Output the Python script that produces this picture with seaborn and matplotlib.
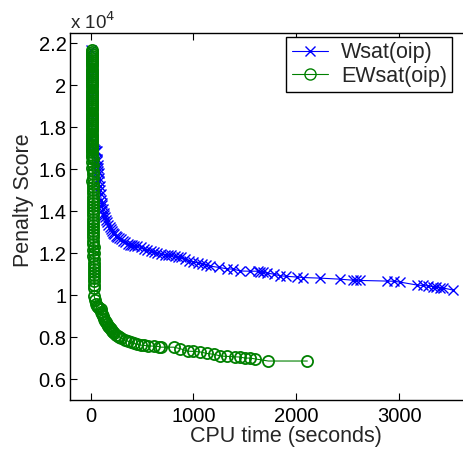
import pandas as pd
import matplotlib
matplotlib.use('Agg')
import matplotlib.pyplot as plt
import seaborn as sns
from matplotlib.ticker import FuncFormatter
from matplotlib.lines import Line2D

# Wsat(oip): CPU time (s) vs penalty score
wsat_time = [2, 3, 4, 5, 6, 8, 10, 14, 20, 30, 40, 50, 58, 62, 65, 68, 72, 75, 78, 82, 85, 88,
             92, 97, 102, 108, 112, 118, 126, 134, 142, 150, 160, 172, 185, 194, 205, 218,
             230, 245, 260, 275, 291, 310, 330, 359, 380, 400, 420, 450, 485, 520, 550, 583,
             620, 650, 680, 720, 750, 777, 820, 850, 880, 920, 960, 1000, 1040, 1080, 1120,
             1165, 1250, 1330, 1388, 1456, 1550, 1631, 1650, 1680, 1718, 1780, 1845, 1900,
             2010, 2060, 2233, 2427, 2553, 2580, 2620, 2883, 2950, 3010, 3175, 3230, 3280,
             3330, 3360, 3400, 3430, 3524]
wsat_score = [21700, 20500, 19500, 18600, 18200, 17500, 17300, 17100, 17000, 16950, 16900,
              16880, 16860, 16500, 16400, 16200, 16050, 15900, 15800, 15600, 15450, 15200,
              15000, 14800, 14550, 14400, 14300, 14100, 13900, 13800, 13700, 13600, 13500,
              13350, 13250, 13150, 13050, 12980, 12900, 12820, 12760, 12720, 12670, 12600,
              12520, 12430, 12400, 12370, 12350, 12320, 12290, 12220, 12160, 12100, 12050,
              12000, 11950, 11930, 11910, 11900, 11850, 11820, 11800, 11720, 11650, 11570,
              11540, 11500, 11440, 11380, 11320, 11250, 11240, 11150, 11140, 11140, 11120,
              11090, 11050, 11000, 10920, 10900, 10860, 10840, 10810, 10760, 10710, 10720,
              10700, 10670, 10660, 10620, 10480, 10460, 10440, 10400, 10380, 10360, 10340,
              10240]

# EWsat(oip): CPU time (s) vs penalty score
ewsat_time = [10, 12, 11, 13, 12, 14, 12, 13, 11, 14, 12, 13, 14, 12, 15, 13, 14, 12, 15, 13,
              14, 16, 13, 15, 14, 16, 14, 15, 13, 16, 15, 14, 16, 15, 17, 14, 16, 15, 17, 16,
              15, 17, 16, 18, 15, 17, 16, 18, 17, 16, 18, 17, 19,
              18, 20, 17, 21, 19, 22, 18, 21, 20, 23, 19, 22, 21, 24, 20, 23, 22, 25, 21, 24,
              23, 26, 22, 25, 24, 27, 25, 28, 26, 29, 27, 30, 28, 31, 30, 33, 31, 35, 33, 37,
              36,
              35, 45, 55, 65, 75, 85, 97, 105, 112, 120, 126, 135, 145, 155, 165, 175, 185,
              194, 205, 215, 230, 245, 262, 280, 300, 330, 359, 390, 420, 450, 485, 520, 560,
              612, 660, 680, 806, 870, 942, 1000, 1068, 1130, 1200, 1262, 1330, 1400, 1456,
              1500, 1553, 1600, 1728, 2107]
ewsat_score = [21700, 21600, 21500, 21400, 21300, 21200, 21100, 21000, 20900, 20800, 20700,
               20600, 20500, 20400, 20300, 20200, 20100, 20000, 19900, 19800, 19700, 19600,
               19500, 19400, 19300, 19200, 19100, 19000, 18900, 18800, 18700, 18600, 18500,
               18400, 18300, 18200, 18100, 18000, 17900, 17800, 17700, 17600, 17500, 17400,
               17300, 17200, 17100, 17000, 16900, 16800, 16700, 16600, 16500,
               16350, 16200, 16050, 15900, 15750, 15600, 15450, 15300, 15150, 15000, 14850,
               14700, 14550, 14400, 14250, 14100, 13950, 13800, 13650, 13500, 13350, 13200,
               13050, 12900, 12750, 12600, 12450, 12300, 12150, 12000, 11850, 11700, 11550,
               11400, 11250, 11100, 10950, 10800, 10650, 10500, 10350,
               9950, 9750, 9600, 9500, 9420, 9380, 9330, 9200, 9100, 9000, 8860, 8780, 8700,
               8620, 8550, 8480, 8420, 8380, 8300, 8250, 8180, 8120, 8050, 8000, 7950, 7880,
               7810, 7760, 7700, 7660, 7620, 7600, 7580, 7570, 7550, 7520, 7520, 7450, 7330,
               7320, 7290, 7220, 7180, 7100, 7080, 7060, 7050, 7000, 7000, 6960, 6860, 6860]

wsat = pd.DataFrame({'time': wsat_time, 'score': wsat_score})
ewsat = pd.DataFrame({'time': ewsat_time, 'score': ewsat_score})

sns.set_style('ticks')
plt.rcParams['font.family'] = ['Liberation Sans', 'DejaVu Sans']
fs = 15.5

fig = plt.figure(figsize=(4.64, 4.5), dpi=100)
# the original axes runs past the right edge of the picture
ax = fig.add_axes([0.151, 0.111, 0.931, 0.816])

sns.lineplot(data=wsat, x='time', y='score', estimator=None, sort=False, ax=ax,
             color='blue', linewidth=0.8, marker='x', markersize=6.5,
             markeredgewidth=1.0, markeredgecolor='blue')
sns.lineplot(data=ewsat, x='time', y='score', estimator=None, sort=False, ax=ax,
             color='green', linewidth=0.8, marker='o', markersize=8,
             markerfacecolor='none', markeredgewidth=1.3, markeredgecolor='green')

ax.set_xlim(-200, 4000)
ax.set_ylim(5000, 22500)
ax.set_xticks([0, 1000, 2000, 3000])
ax.set_yticks([6000, 8000, 10000, 12000, 14000, 16000, 18000, 20000, 22000])
ax.yaxis.set_major_formatter(FuncFormatter(lambda v, p: f'{v / 1e4:g}'))
ax.tick_params(direction='in', length=5, width=0.8, top=True, right=True,
               labelsize=14.5, colors='black')
ax.tick_params(axis='x', pad=5)
ax.tick_params(axis='y', pad=2.5)
for s in ax.spines.values():
    s.set_linewidth(1.0)
    s.set_color('black')

ax.set_xlabel('CPU time (seconds)', fontsize=fs)
ax.set_ylabel('Penalty Score', fontsize=fs)
ax.xaxis.set_label_coords(0.5, -0.071)
ax.yaxis.set_label_coords(-0.084, 0.545)
ax.text(0.0, 1.011, r'x 10$^4$', transform=ax.transAxes, fontsize=13.5,
        ha='left', va='baseline')

h1 = Line2D([], [], color='blue', linewidth=0.8, marker='x', markersize=6.5,
            markeredgewidth=1.0)
h2 = Line2D([], [], color='green', linewidth=0.8, marker='o', markersize=8,
            markerfacecolor='none', markeredgewidth=1.0)
leg = fig.legend([h1, h2], ['Wsat(oip)', 'EWsat(oip)'], loc='upper right',
                 bbox_to_anchor=(0.975, 0.918), fancybox=False, framealpha=1,
                 edgecolor='black', fontsize=fs, borderpad=0.25, labelspacing=0.12,
                 handlelength=1.7, handletextpad=0.6, borderaxespad=0)
leg.get_frame().set_linewidth(1.0)

fig.savefig('out.png', dpi=100)
